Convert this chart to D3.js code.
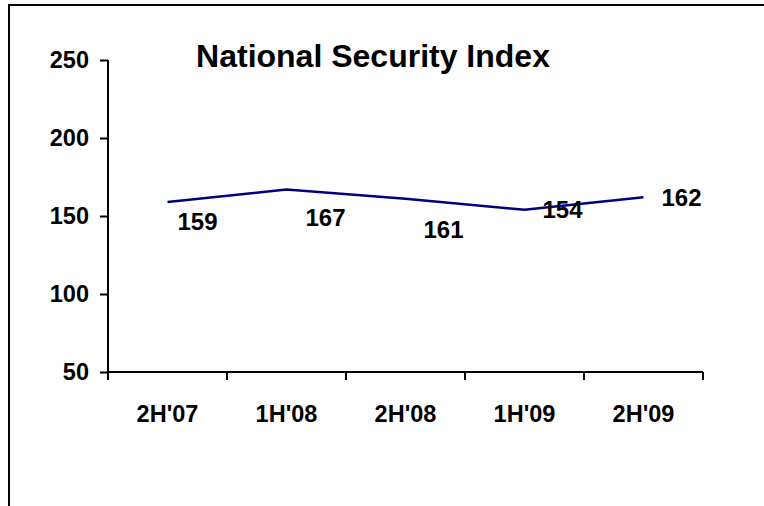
<!DOCTYPE html>
<html>
<head>
<meta charset="utf-8">
<script src="https://cdn.jsdelivr.net/npm/d3@7"></script>
<style>
  html, body { margin: 0; padding: 0; background: #fff; }
  svg { display: block; }
  text { font-family: Arial, 'Liberation Sans', sans-serif; font-weight: bold; fill: #000; }
</style>
</head>
<body>
<div id="chart"></div>
<script>
// Chart data
const TITLE = 'National Security Index';
const CATEGORIES = ["2H'07", "1H'08", "2H'08", "1H'09", "2H'09"];
const VALUES = [159, 167, 161, 154, 162];
const Y_TICKS = [50, 100, 150, 200, 250];

const DIMENSIONS = {
  width: 764,
  height: 506,
  plot: { left: 108, right: 703, top: 60, bottom: 372 },
  tick: 8,
  font: { title: 32, tick: 23.5, label: 24 }
};

// hand-placed label offsets (px, from the point), as in the original sheet
const LABEL_OFFSETS = [[30, 28], [39, 37], [38, 39], [38, 8], [38, 9]];

const COLORS = {
  line: '#000080',
  axis: '#000',
  frame: '#000'
};

var svg = d3.select('#chart').append('svg')
  .attr('width', DIMENSIONS.width)
  .attr('height', DIMENSIONS.height);

// Frame (only top and left edges show in the picture)
svg.append('path')
  .attr('d', `M9,${DIMENSIONS.height} V5 H${DIMENSIONS.width}`)
  .attr('fill', 'none')
  .attr('stroke', COLORS.frame)
  .attr('stroke-width', 2);

var xScale = d3.scaleBand()
  .domain(CATEGORIES)
  .range([DIMENSIONS.plot.left, DIMENSIONS.plot.right]);
var yScale = d3.scaleLinear()
  .domain([50, 250])
  .range([DIMENSIONS.plot.bottom, DIMENSIONS.plot.top]);

// Title
svg.append('text')
  .text(TITLE)
  .attr('x', 373)
  .attr('y', 67)
  .attr('text-anchor', 'middle')
  .attr('font-size', DIMENSIONS.font.title);

// Y axis
var yAxis = svg.append('g')
  .attr('transform', `translate(${DIMENSIONS.plot.left},0)`)
  .call(d3.axisLeft(yScale).tickValues(Y_TICKS).tickSize(DIMENSIONS.tick).tickPadding(11));

// X axis, ticks on the category boundaries
var xAxis = svg.append('g')
  .attr('transform', `translate(0,${DIMENSIONS.plot.bottom})`)
  .call(d3.axisBottom(xScale).tickSize(0).tickPadding(33));
xAxis.selectAll('.xtick')
    .data([CATEGORIES[0]].concat(CATEGORIES))
  .enter().append('line')
    .classed('xtick', true)
    .attr('x1', (d, i) => i === 0 ? xScale(d) : xScale(d) + xScale.bandwidth())
    .attr('x2', (d, i) => i === 0 ? xScale(d) : xScale(d) + xScale.bandwidth())
    .attr('y1', 0)
    .attr('y2', DIMENSIONS.tick)
    .attr('stroke', COLORS.axis)
    .attr('stroke-width', 2);

for (let ax of [xAxis, yAxis]) {
  ax.select('.domain').attr('stroke', COLORS.axis).attr('stroke-width', 2);
  ax.selectAll('.tick line').attr('stroke', COLORS.axis).attr('stroke-width', 2);
  ax.selectAll('text')
    .attr('font-family', null)
    .attr('font-size', DIMENSIONS.font.tick)
    .attr('fill', '#000');
}
xAxis.select('.domain').attr('d', `M${DIMENSIONS.plot.left},0H${DIMENSIONS.plot.right}`);
yAxis.select('.domain').attr('d', `M0,${DIMENSIONS.plot.top}V${DIMENSIONS.plot.bottom}`);

// Series line
var cx = (d, i) => xScale(CATEGORIES[i]) + xScale.bandwidth() / 2;

svg.append('path')
  .datum(VALUES)
  .attr('d', d3.line().x(cx).y(d => yScale(d)))
  .attr('fill', 'none')
  .attr('stroke', COLORS.line)
  .attr('stroke-width', 2.5);

// Data labels
svg.selectAll('.label')
    .data(VALUES)
  .enter().append('text')
    .classed('label', true)
    .text(d => d)
    .attr('x', (d, i) => cx(d, i) + LABEL_OFFSETS[i][0])
    .attr('y', (d, i) => yScale(d) + LABEL_OFFSETS[i][1])
    .attr('text-anchor', 'middle')
    .attr('font-size', DIMENSIONS.font.label);
</script>
</body>
</html>
